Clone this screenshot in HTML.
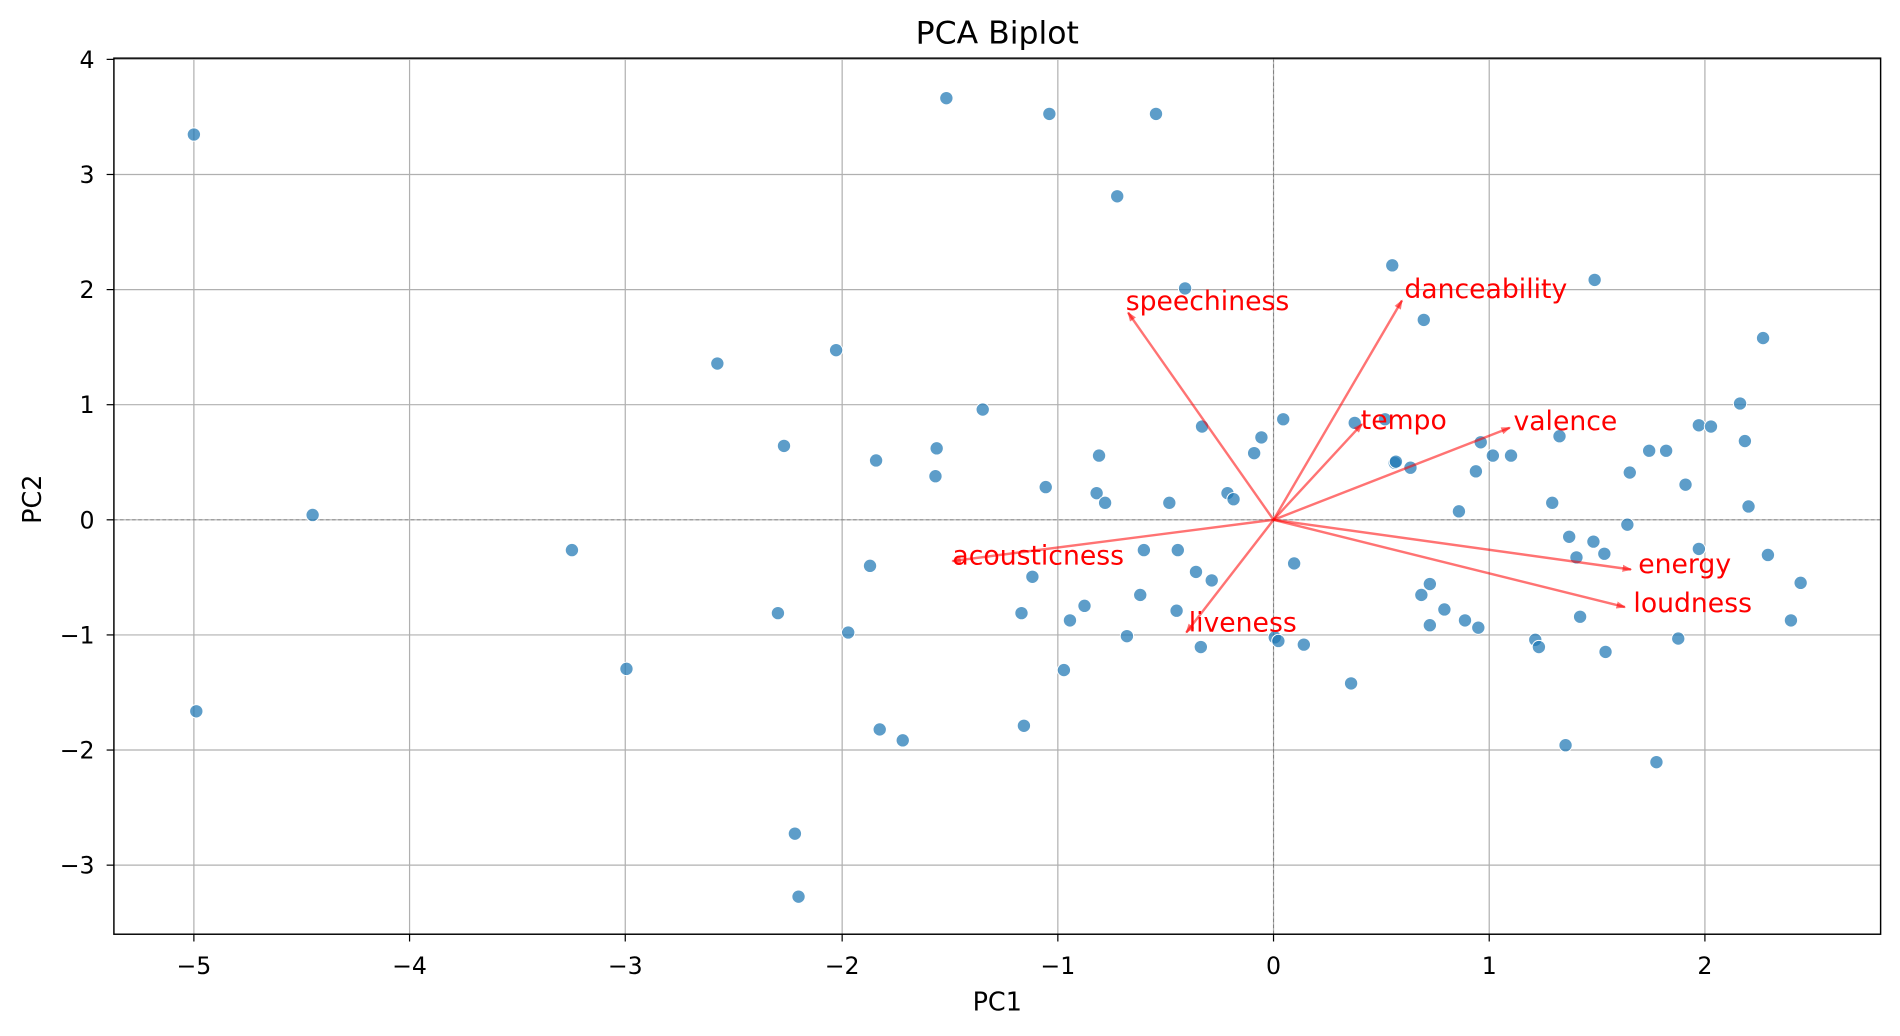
<!DOCTYPE html>
<html><head><meta charset="utf-8"><style>html,body{margin:0;padding:0;background:#fff}svg{display:block}</style></head>
<body>
<svg width="1900" height="1036" viewBox="0 0 1568 855" preserveAspectRatio="none" xmlns="http://www.w3.org/2000/svg" font-family="'DejaVu Sans','Liberation Sans',sans-serif">
<rect width="1568" height="855" fill="#fff"/>
<g stroke="#b0b0b0" stroke-width="1">
<line x1="160" y1="48" x2="160" y2="771"/><line x1="338" y1="48" x2="338" y2="771"/><line x1="516" y1="48" x2="516" y2="771"/><line x1="695" y1="48" x2="695" y2="771"/><line x1="873" y1="48" x2="873" y2="771"/><line x1="1051" y1="48" x2="1051" y2="771"/><line x1="1229" y1="48" x2="1229" y2="771"/><line x1="1407" y1="48" x2="1407" y2="771"/>
<line x1="94" y1="49" x2="1552" y2="49"/><line x1="94" y1="144" x2="1552" y2="144"/><line x1="94" y1="239" x2="1552" y2="239"/><line x1="94" y1="334" x2="1552" y2="334"/><line x1="94" y1="429" x2="1552" y2="429"/><line x1="94" y1="524" x2="1552" y2="524"/><line x1="94" y1="619" x2="1552" y2="619"/><line x1="94" y1="714" x2="1552" y2="714"/>
</g>
<g stroke="#808080" stroke-width="0.8" stroke-dasharray="3,2">
<line x1="1051" y1="48" x2="1051" y2="771"/><line x1="94" y1="429" x2="1552" y2="429"/>
</g>
<g fill="#1f77b4" fill-opacity="0.72" stroke="#fff" stroke-width="0.8">
<circle cx="160" cy="111" r="5.5"/><circle cx="258" cy="425" r="5.5"/><circle cx="162" cy="587" r="5.5"/><circle cx="472" cy="454" r="5.5"/><circle cx="517" cy="552" r="5.5"/><circle cx="592" cy="300" r="5.5"/><circle cx="647" cy="368" r="5.5"/><circle cx="642" cy="506" r="5.5"/><circle cx="690" cy="289" r="5.5"/><circle cx="718" cy="467" r="5.5"/><circle cx="700" cy="522" r="5.5"/><circle cx="723" cy="380" r="5.5"/><circle cx="773" cy="370" r="5.5"/><circle cx="772" cy="393" r="5.5"/><circle cx="781" cy="81" r="5.5"/><circle cx="811" cy="338" r="5.5"/><circle cx="866" cy="94" r="5.5"/><circle cx="954" cy="94" r="5.5"/><circle cx="922" cy="162" r="5.5"/><circle cx="978" cy="238" r="5.5"/><circle cx="1149" cy="219" r="5.5"/><circle cx="1316" cy="231" r="5.5"/><circle cx="1175" cy="264" r="5.5"/><circle cx="1455" cy="279" r="5.5"/><circle cx="863" cy="402" r="5.5"/><circle cx="905" cy="407" r="5.5"/><circle cx="907" cy="376" r="5.5"/><circle cx="912" cy="415" r="5.5"/><circle cx="852" cy="476" r="5.5"/><circle cx="843" cy="506" r="5.5"/><circle cx="883" cy="512" r="5.5"/><circle cx="895" cy="500" r="5.5"/><circle cx="878" cy="553" r="5.5"/><circle cx="845" cy="599" r="5.5"/><circle cx="726" cy="602" r="5.5"/><circle cx="745" cy="611" r="5.5"/><circle cx="656" cy="688" r="5.5"/><circle cx="659" cy="740" r="5.5"/><circle cx="930" cy="525" r="5.5"/><circle cx="941" cy="491" r="5.5"/><circle cx="944" cy="454" r="5.5"/><circle cx="965" cy="415" r="5.5"/><circle cx="992" cy="352" r="5.5"/><circle cx="1013" cy="407" r="5.5"/><circle cx="1018" cy="412" r="5.5"/><circle cx="1035" cy="374" r="5.5"/><circle cx="1041" cy="361" r="5.5"/><circle cx="1059" cy="346" r="5.5"/><circle cx="972" cy="454" r="5.5"/><circle cx="971" cy="504" r="5.5"/><circle cx="987" cy="472" r="5.5"/><circle cx="1000" cy="479" r="5.5"/><circle cx="991" cy="534" r="5.5"/><circle cx="1052" cy="526" r="5.5"/><circle cx="1055" cy="529" r="5.5"/><circle cx="1068" cy="465" r="5.5"/><circle cx="1076" cy="532" r="5.5"/><circle cx="1115" cy="564" r="5.5"/><circle cx="1118" cy="349" r="5.5"/><circle cx="1143" cy="346" r="5.5"/><circle cx="1151" cy="382" r="5.5"/><circle cx="1164" cy="386" r="5.5"/><circle cx="1222" cy="365" r="5.5"/><circle cx="1232" cy="376" r="5.5"/><circle cx="1247" cy="376" r="5.5"/><circle cx="1218" cy="389" r="5.5"/><circle cx="1204" cy="422" r="5.5"/><circle cx="1287" cy="360" r="5.5"/><circle cx="1281" cy="415" r="5.5"/><circle cx="1295" cy="443" r="5.5"/><circle cx="1301" cy="460" r="5.5"/><circle cx="1324" cy="457" r="5.5"/><circle cx="1343" cy="433" r="5.5"/><circle cx="1345" cy="390" r="5.5"/><circle cx="1361" cy="372" r="5.5"/><circle cx="1375" cy="372" r="5.5"/><circle cx="1391" cy="400" r="5.5"/><circle cx="1402" cy="351" r="5.5"/><circle cx="1412" cy="352" r="5.5"/><circle cx="1436" cy="333" r="5.5"/><circle cx="1440" cy="364" r="5.5"/><circle cx="1443" cy="418" r="5.5"/><circle cx="1459" cy="458" r="5.5"/><circle cx="1486" cy="481" r="5.5"/><circle cx="1478" cy="512" r="5.5"/><circle cx="1385" cy="527" r="5.5"/><circle cx="1325" cy="538" r="5.5"/><circle cx="1304" cy="509" r="5.5"/><circle cx="1267" cy="528" r="5.5"/><circle cx="1270" cy="534" r="5.5"/><circle cx="1192" cy="503" r="5.5"/><circle cx="1180" cy="482" r="5.5"/><circle cx="1173" cy="491" r="5.5"/><circle cx="1180" cy="516" r="5.5"/><circle cx="1209" cy="512" r="5.5"/><circle cx="1220" cy="518" r="5.5"/><circle cx="1152" cy="381" r="5.5"/><circle cx="1292" cy="615" r="5.5"/><circle cx="1367" cy="629" r="5.5"/><circle cx="1402" cy="453" r="5.5"/><circle cx="1315" cy="447" r="5.5"/>
</g>
<defs><marker id="ah" markerWidth="8" markerHeight="6" refX="7" refY="3" orient="auto" markerUnits="userSpaceOnUse"><path d="M0,0 L8,3 L0,6 Z" fill="#ff0000" fill-opacity="0.55"/></marker></defs>
<g stroke="#ff0000" stroke-opacity="0.55" stroke-width="2" marker-end="url(#ah)">
<line x1="1051" y1="429" x2="931" y2="258"/><line x1="1051" y1="429" x2="1157" y2="248"/><line x1="1051" y1="429" x2="1124" y2="350"/><line x1="1051" y1="429" x2="1246" y2="353"/><line x1="1051" y1="429" x2="1346" y2="470"/><line x1="1051" y1="429" x2="1341" y2="501"/><line x1="1051" y1="429" x2="786" y2="463"/><line x1="1051" y1="429" x2="979" y2="522"/>
</g>
<g fill="#ff0000" font-size="22">
<text x="929" y="256">speechiness</text><text x="1159" y="246">danceability</text><text x="1123" y="354">tempo</text><text x="1249" y="355">valence</text><text x="1352" y="473">energy</text><text x="1348" y="505">loudness</text><text x="786" y="466">acousticness</text><text x="981" y="521">liveness</text>
</g>
<rect x="94" y="48" width="1458" height="723" fill="none" stroke="#000" stroke-width="1.2"/>
<g stroke="#000" stroke-width="1">
<line x1="160" y1="771" x2="160" y2="777"/><line x1="338" y1="771" x2="338" y2="777"/><line x1="516" y1="771" x2="516" y2="777"/><line x1="695" y1="771" x2="695" y2="777"/><line x1="873" y1="771" x2="873" y2="777"/><line x1="1051" y1="771" x2="1051" y2="777"/><line x1="1229" y1="771" x2="1229" y2="777"/><line x1="1407" y1="771" x2="1407" y2="777"/>
<line x1="88" y1="49" x2="94" y2="49"/><line x1="88" y1="144" x2="94" y2="144"/><line x1="88" y1="239" x2="94" y2="239"/><line x1="88" y1="334" x2="94" y2="334"/><line x1="88" y1="429" x2="94" y2="429"/><line x1="88" y1="524" x2="94" y2="524"/><line x1="88" y1="619" x2="94" y2="619"/><line x1="88" y1="714" x2="94" y2="714"/>
</g>
<g font-size="19.5" fill="#000" text-anchor="middle">
<text x="160" y="804">−5</text><text x="338" y="804">−4</text><text x="516" y="804">−3</text><text x="695" y="804">−2</text><text x="873" y="804">−1</text><text x="1051" y="804">0</text><text x="1229" y="804">1</text><text x="1407" y="804">2</text>
<text x="823" y="834" font-size="21">PC1</text>
</g>
<g font-size="19.5" fill="#000" text-anchor="end">
<text x="78" y="56">4</text><text x="78" y="151">3</text><text x="78" y="246">2</text><text x="78" y="341">1</text><text x="78" y="436">0</text><text x="78" y="531">−1</text><text x="78" y="626">−2</text><text x="78" y="721">−3</text>
</g>
<text x="34" y="412" font-size="21" text-anchor="middle" transform="rotate(-90 34 412)">PC2</text>
<text x="823" y="36" font-size="26" text-anchor="middle">PCA Biplot</text>
</svg>
</body></html>
